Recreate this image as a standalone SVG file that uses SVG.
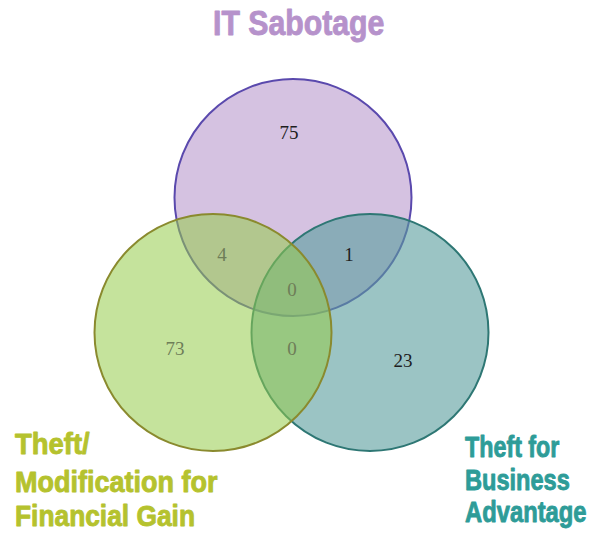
<svg xmlns="http://www.w3.org/2000/svg" width="590" height="536" viewBox="0 0 590 536">
<style>
.lbl{font-family:"Liberation Sans","DejaVu Sans",sans-serif;font-weight:bold;stroke-width:0.9;stroke-linejoin:round}
.num{font-family:"Liberation Serif","Times New Roman",serif;font-size:19px;text-anchor:middle}
.dk{fill:#1e1e1e}
.gn{fill:#6e7d58}
</style>
<rect width="590" height="536" fill="#ffffff"/>
<g id="it-sabotage">
<circle cx="293" cy="197.5" r="118.5" fill="#d5c2e1" stroke="#5a49ad" stroke-width="2"/>
<text class="lbl" transform="translate(213,35) scale(0.87,1)" font-size="35" fill="#b692cb" stroke="#b692cb" textLength="197" lengthAdjust="spacingAndGlyphs">IT Sabotage</text>
</g>
<g id="theft-business">
<circle cx="370" cy="332.5" r="118.5" fill="#589d9d" fill-opacity="0.6" stroke="#2e7774" stroke-width="2"/>
<g class="lbl" font-size="30" fill="#2e9c98" stroke="#2e9c98">
<text transform="translate(465,457) scale(0.8,1)" textLength="118" lengthAdjust="spacingAndGlyphs">Theft for</text>
<text transform="translate(465,490) scale(0.8,1)" textLength="131" lengthAdjust="spacingAndGlyphs">Business</text>
<text transform="translate(465,522) scale(0.8,1)" textLength="152" lengthAdjust="spacingAndGlyphs">Advantage</text>
</g>
</g>
<g id="numbers-top">
<text class="num dk" x="289" y="139">75</text>
<text class="num dk" x="349" y="261">1</text>
<text class="num dk" x="403" y="367">23</text>
</g>
<g id="theft-financial">
<circle cx="213" cy="332.5" r="118.5" fill="#95cc4b" fill-opacity="0.55" stroke="#8a8a2e" stroke-width="2"/>
<g class="lbl" font-size="29" fill="#b5c22e" stroke="#b5c22e">
<text transform="translate(15,454) scale(0.9,1)" textLength="83" lengthAdjust="spacingAndGlyphs">Theft/</text>
<text transform="translate(15,492) scale(0.9,1)" textLength="225" lengthAdjust="spacingAndGlyphs">Modification for</text>
<text transform="translate(15,526) scale(0.9,1)" textLength="200" lengthAdjust="spacingAndGlyphs">Financial Gain</text>
</g>
</g>
<g id="numbers-green">
<text class="num gn" x="222" y="261">4</text>
<text class="num gn" x="292" y="296">0</text>
<text class="num gn" x="292" y="355">0</text>
<text class="num gn" x="175" y="355">73</text>
</g>
</svg>
